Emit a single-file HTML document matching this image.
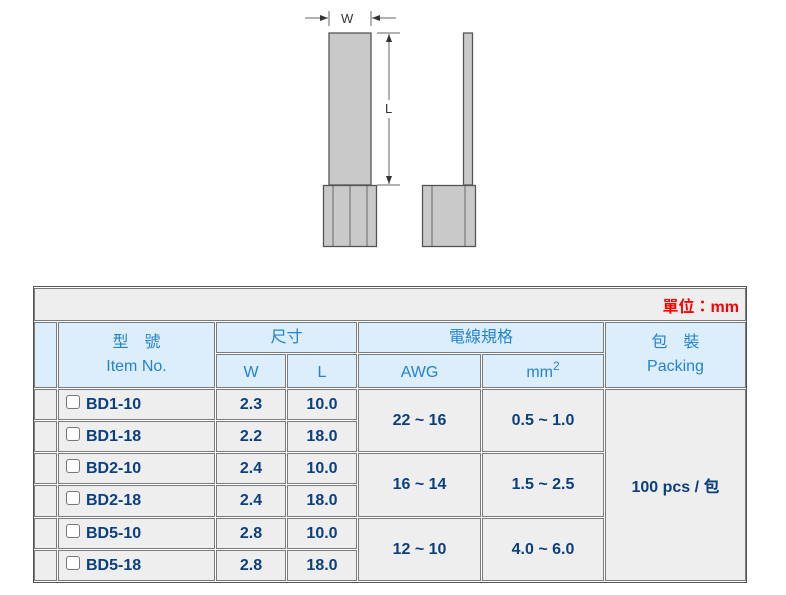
<!DOCTYPE html>
<html><head><meta charset="utf-8"><style>
body{margin:0;width:786px;height:595px;background:#fff;position:relative;overflow:hidden;font-family:"Liberation Sans","Noto Sans CJK TC",sans-serif}
.c{position:absolute;box-sizing:border-box;border:1px solid #7a7a7a;background:#eeeeee;display:flex;align-items:center;justify-content:center;color:#0b3f7e;font-weight:bold;font-size:16px}
.h{background:#dcedfc;color:#2383cf;font-weight:normal;font-size:16px;flex-direction:column;line-height:24px}
.cb{display:inline-block;width:12px;height:12px;border:1px solid #777;border-radius:3px;background:#fff;margin-right:6px;position:relative;top:-3px}
.l{justify-content:flex-start;padding-left:7px}
</style></head><body>
<svg width="786" height="270" style="position:absolute;left:0;top:0">
<g stroke="#555" stroke-width="1.3" fill="#c9c9c9">
<rect x="329" y="33" width="42" height="152"/>
<rect x="323.5" y="185.5" width="53" height="61"/>
<rect x="463.5" y="33" width="9" height="152"/>
<rect x="422.5" y="185.5" width="53" height="61"/>
</g>
<g stroke="#666" stroke-width="1" fill="none">
<line x1="333" y1="186" x2="333" y2="246"/><line x1="350" y1="186" x2="350" y2="246"/><line x1="367" y1="186" x2="367" y2="246"/>
<line x1="432" y1="186" x2="432" y2="246"/><line x1="465" y1="186" x2="465" y2="246"/>
<line x1="329" y1="11" x2="329" y2="26"/><line x1="371" y1="11" x2="371" y2="26"/>
<line x1="305" y1="18" x2="328" y2="18"/><line x1="372" y1="18" x2="396" y2="18"/>
<line x1="377" y1="33" x2="400" y2="33"/><line x1="377" y1="185" x2="400" y2="185"/>
<line x1="389" y1="34" x2="389" y2="100"/><line x1="389" y1="118" x2="389" y2="184"/>
</g>
<g fill="#333">
<polygon points="328,18 320,15 320,21"/><polygon points="372,18 380,15 380,21"/>
<polygon points="389,34 386,42 392,42"/><polygon points="389,184 386,176 392,176"/>
</g>
<text x="341" y="23" font-size="13" fill="#333" font-family="Liberation Sans">W</text>
<text x="385" y="113" font-size="13" fill="#333" font-family="Liberation Sans">L</text>
</svg>
<div style="position:absolute;left:33px;top:286px;width:714px;height:297px;box-sizing:border-box;border:1px solid #555"></div>
<div class="c" style="left:34px;top:288px;width:712px;height:33px;justify-content:flex-end;padding-right:6px;color:#f00;font-size:16px">單位：mm</div>
<div class="c h" style="left:34px;top:322px;width:23px;height:66px"></div>
<div class="c h" style="left:58px;top:322px;width:157px;height:66px"><span>型　號</span><span>Item No.</span></div>
<div class="c h" style="left:216px;top:322px;width:141px;height:31px">尺寸</div>
<div class="c h" style="left:216px;top:354px;width:70px;height:34px;padding-top:4px">W</div>
<div class="c h" style="left:287px;top:354px;width:70px;height:34px;padding-top:4px">L</div>
<div class="c h" style="left:358px;top:322px;width:246px;height:31px">電線規格</div>
<div class="c h" style="left:358px;top:354px;width:123px;height:34px;padding-top:4px">AWG</div>
<div class="c h" style="left:482px;top:354px;width:122px;height:34px;padding-top:4px"><span>mm<span style="font-size:12px;position:relative;top:-7px">2</span></span></div>
<div class="c h" style="left:605px;top:322px;width:141px;height:66px"><span>包　裝</span><span>Packing</span></div>

<div class="c" style="left:34px;top:389px;width:23px;height:31px"></div>
<div class="c" style="left:34px;top:421px;width:23px;height:31px"></div>
<div class="c" style="left:34px;top:453px;width:23px;height:31px"></div>
<div class="c" style="left:34px;top:485px;width:23px;height:32px"></div>
<div class="c" style="left:34px;top:518px;width:23px;height:31px"></div>
<div class="c" style="left:34px;top:550px;width:23px;height:31px"></div>

<div class="c l" style="left:58px;top:389px;width:157px;height:31px"><span class="cb"></span>BD1-10</div>
<div class="c l" style="left:58px;top:421px;width:157px;height:31px"><span class="cb"></span>BD1-18</div>
<div class="c l" style="left:58px;top:453px;width:157px;height:31px"><span class="cb"></span>BD2-10</div>
<div class="c l" style="left:58px;top:485px;width:157px;height:32px"><span class="cb"></span>BD2-18</div>
<div class="c l" style="left:58px;top:518px;width:157px;height:31px"><span class="cb"></span>BD5-10</div>
<div class="c l" style="left:58px;top:550px;width:157px;height:31px"><span class="cb"></span>BD5-18</div>

<div class="c" style="left:216px;top:389px;width:70px;height:31px">2.3</div>
<div class="c" style="left:216px;top:421px;width:70px;height:31px">2.2</div>
<div class="c" style="left:216px;top:453px;width:70px;height:31px">2.4</div>
<div class="c" style="left:216px;top:485px;width:70px;height:32px">2.4</div>
<div class="c" style="left:216px;top:518px;width:70px;height:31px">2.8</div>
<div class="c" style="left:216px;top:550px;width:70px;height:31px">2.8</div>

<div class="c" style="left:287px;top:389px;width:70px;height:31px">10.0</div>
<div class="c" style="left:287px;top:421px;width:70px;height:31px">18.0</div>
<div class="c" style="left:287px;top:453px;width:70px;height:31px">10.0</div>
<div class="c" style="left:287px;top:485px;width:70px;height:32px">18.0</div>
<div class="c" style="left:287px;top:518px;width:70px;height:31px">10.0</div>
<div class="c" style="left:287px;top:550px;width:70px;height:31px">18.0</div>

<div class="c" style="left:358px;top:389px;width:123px;height:63px">22 ~ 16</div>
<div class="c" style="left:358px;top:453px;width:123px;height:64px">16 ~ 14</div>
<div class="c" style="left:358px;top:518px;width:123px;height:63px">12 ~ 10</div>
<div class="c" style="left:482px;top:389px;width:122px;height:63px">0.5 ~ 1.0</div>
<div class="c" style="left:482px;top:453px;width:122px;height:64px">1.5 ~ 2.5</div>
<div class="c" style="left:482px;top:518px;width:122px;height:63px">4.0 ~ 6.0</div>
<div class="c" style="left:605px;top:389px;width:141px;height:192px">100 pcs / 包</div>
</body></html>
